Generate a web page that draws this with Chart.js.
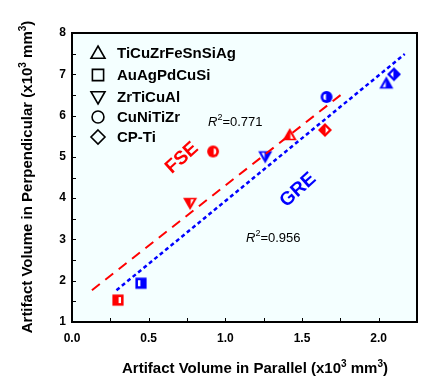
<!DOCTYPE html>
<html>
<head>
<meta charset="utf-8">
<script src="https://cdn.jsdelivr.net/npm/chart.js@4"></script>
<style>
html, body { margin: 0; padding: 0; background: #fff; }
</style>
</head>
<body>
<canvas id="scatterChart" width="430" height="383"></canvas>
<script>
// alloys in legend order, with their marker shapes
var alloys = ['TiCuZrFeSnSiAg', 'AuAgPdCuSi', 'ZrTiCuAl', 'CuNiTiZr', 'CP-Ti'];
var shapes = ['triangle', 'rect', 'triangleDown', 'circle', 'rectRot'];

// artifact volumes (x10^3 mm^3), same order as alloys
var fseParallel = [1.42, 0.30, 0.77, 0.92, 1.65];
var fsePerp     = [5.53, 1.53, 3.88, 5.13, 5.65];
var greParallel = [2.05, 0.45, 1.26, 1.66, 2.10];
var grePerp     = [6.78, 1.94, 5.01, 6.45, 7.00];

// fitted lines (end points)
var fseFitX = [0.13, 1.77];
var fseFitY = [1.77, 6.55];
var greFitX = [0.29, 2.17];
var greFitY = [1.77, 7.49];

var xTicks = [0, 0.5, 1.0, 1.5, 2.0];
var yTicks = [1, 2, 3, 4, 5, 6, 7, 8];

var RED = '#ff0000';
var BLUE = '#0000ff';

function shapePath(c, shape, cx, cy, r) {
    c.beginPath();
    if (shape === 'triangle') {
        c.moveTo(cx, cy - r);
        c.lineTo(cx + r, cy + r * 0.75);
        c.lineTo(cx - r, cy + r * 0.75);
        c.closePath();
    } else if (shape === 'triangleDown') {
        c.moveTo(cx, cy + r);
        c.lineTo(cx + r, cy - r * 0.75);
        c.lineTo(cx - r, cy - r * 0.75);
        c.closePath();
    } else if (shape === 'rect') {
        c.rect(cx - r * 0.8, cy - r * 0.8, r * 1.6, r * 1.6);
    } else if (shape === 'circle') {
        c.arc(cx, cy, r * 0.85, 0, Math.PI * 2);
    } else {
        c.moveTo(cx, cy - r);
        c.lineTo(cx + r, cy);
        c.lineTo(cx, cy + r);
        c.lineTo(cx - r, cy);
        c.closePath();
    }
}

// half filled marker: solid shape, white inner half on one side
function makeMarker(shape, color, side) {
    var cv = document.createElement('canvas');
    cv.width = 18; cv.height = 18;
    var c = cv.getContext('2d');
    shapePath(c, shape, 9, 9, 7);
    c.fillStyle = color;
    c.fill();
    c.save();
    c.beginPath();
    if (side === 'right') c.rect(9.6, 0, 9, 18);
    else c.rect(0, 0, 8.4, 18);
    c.clip();
    shapePath(c, shape, 9, shape === 'triangle' ? 10 : (shape === 'triangleDown' ? 8 : 9), 3.8);
    c.fillStyle = '#fff';
    c.fill();
    c.restore();
    return cv;
}

function makeOutline(shape) {
    var cv = document.createElement('canvas');
    cv.width = 20; cv.height = 20;
    var c = cv.getContext('2d');
    shapePath(c, shape, 10, 10, 7);
    c.strokeStyle = '#000';
    c.lineWidth = 1.6;
    c.stroke();
    return cv;
}

var fseMarkers = shapes.map(function (s) { return makeMarker(s, RED, 'right'); });
var greMarkers = shapes.map(function (s) { return makeMarker(s, BLUE, 'left'); });
var legendMarkers = shapes.map(makeOutline);

function pts(xs, ys) {
    return xs.map(function (x, i) { return { x: x, y: ys[i] }; });
}

// text with superscripts, parts = [[text, isSup, font], ...]
function drawParts(c, parts, x, y, font, supFont, align) {
    var w = 0;
    parts.forEach(function (p) {
        c.font = p[1] ? supFont : (p[2] || font);
        w += c.measureText(p[0]).width;
    });
    var cx = align === 'center' ? x - w / 2 : x;
    c.textAlign = 'left';
    c.textBaseline = 'alphabetic';
    parts.forEach(function (p) {
        c.font = p[1] ? supFont : (p[2] || font);
        c.fillText(p[0], cx, p[1] ? y - 6 : y);
        cx += c.measureText(p[0]).width;
    });
}

var decor = {
    id: 'decor',
    beforeDraw: function (chart) {
        var a = chart.chartArea, c = chart.ctx;
        c.save();
        c.fillStyle = '#f4ffff';
        c.fillRect(a.left, a.top, a.right - a.left, a.bottom - a.top);
        c.restore();
    },
    afterDraw: function (chart) {
        var a = chart.chartArea, c = chart.ctx;
        var xs = chart.scales.x, ys = chart.scales.y;
        c.save();
        // inner ticks
        c.strokeStyle = '#000';
        c.lineWidth = 1;
        c.beginPath();
        for (var v = 0; v < 2.25; v += 0.25) {
            var px = Math.round(xs.getPixelForValue(v)) + 0.5;
            c.moveTo(px, a.bottom);
            c.lineTo(px, a.bottom - 4);
        }
        for (var u = 1.5; u < 8; u += 0.5) {
            var py = Math.round(ys.getPixelForValue(u)) + 0.5;
            c.moveTo(a.left, py);
            c.lineTo(a.left + 4, py);
        }
        c.stroke();
        // frame
        c.lineWidth = 2;
        c.strokeRect(a.left, a.top, a.right - a.left, a.bottom - a.top);

        // legend
        c.fillStyle = '#000';
        c.font = 'bold 15px "Liberation Sans", Arial, sans-serif';
        c.textBaseline = 'middle';
        var rows = [53, 75, 97, 117, 137];
        alloys.forEach(function (name, i) {
            c.drawImage(legendMarkers[i], 88, rows[i] - 10);
            c.fillText(name, 117, rows[i] + 1);
        });

        // fit labels
        c.save();
        c.translate(182, 158);
        c.rotate(-42 * Math.PI / 180);
        c.fillStyle = RED;
        c.font = 'bold 19px "Liberation Sans", Arial, sans-serif';
        c.textAlign = 'center';
        c.fillText('FSE', 0, 0);
        c.restore();
        c.save();
        c.translate(298, 190);
        c.rotate(-42 * Math.PI / 180);
        c.fillStyle = BLUE;
        c.font = 'bold 19px "Liberation Sans", Arial, sans-serif';
        c.textAlign = 'center';
        c.fillText('GRE', 0, 0);
        c.restore();

        c.fillStyle = '#000';
        var reg = '13px "Liberation Sans", Arial, sans-serif';
        var ita = 'italic 13px "Liberation Sans", Arial, sans-serif';
        var sup = '9px "Liberation Sans", Arial, sans-serif';
        drawParts(c, [['R', false, ita], ['2', true], ['=0.771', false]], 208, 126, reg, sup, 'left');
        drawParts(c, [['R', false, ita], ['2', true], ['=0.956', false]], 246, 242, reg, sup, 'left');

        // axis titles
        var tf = 'bold 15px "Liberation Sans", Arial, sans-serif';
        var ts = 'bold 10px "Liberation Sans", Arial, sans-serif';
        drawParts(c, [['Artifact Volume in Parallel (x10', false], ['3', true], [' mm', false], ['3', true], [')', false]],
            255, 373, tf, ts, 'center');
        c.save();
        c.translate(32, 177);
        c.rotate(-Math.PI / 2);
        drawParts(c, [['Artifact Volume in Perpendicular (x10', false], ['3', true], [' mm', false], ['3', true], [')', false]],
            0, 0, tf, ts, 'center');
        c.restore();
        c.restore();
    }
};

var ctx = document.getElementById('scatterChart').getContext('2d');
var myChart = new Chart(ctx, {
    type: 'scatter',
    data: {
        datasets: [{
            type: 'line',
            label: 'FSE fit',
            data: pts(fseFitX, fseFitY),
            borderColor: RED,
            borderWidth: 2,
            borderDash: [10, 7],
            pointRadius: 0,
            fill: false
        }, {
            type: 'line',
            label: 'GRE fit',
            data: pts(greFitX, greFitY),
            borderColor: BLUE,
            borderWidth: 2.5,
            borderDash: [4, 3],
            pointRadius: 0,
            fill: false
        }, {
            label: 'FSE',
            data: pts(fseParallel, fsePerp),
            pointStyle: fseMarkers,
            pointRadius: 7
        }, {
            label: 'GRE',
            data: pts(greParallel, grePerp),
            pointStyle: greMarkers,
            pointRadius: 7
        }]
    },
    options: {
        responsive: false,
        animation: false,
        layout: { padding: { top: 33, right: 13, left: 0, bottom: 0 } },
        plugins: {
            legend: { display: false },
            tooltip: { enabled: false }
        },
        scales: {
            x: {
                type: 'linear',
                min: 0,
                max: 2.25,
                afterBuildTicks: function (s) { s.ticks = xTicks.map(function (v) { return { value: v }; }); },
                afterFit: function (s) { s.height = 61; },
                grid: { display: false, drawTicks: false },
                border: { display: false },
                ticks: {
                    padding: 9,
                    color: '#000',
                    font: { family: '"Liberation Sans", Arial, sans-serif', size: 12, weight: 'bold' },
                    callback: function (v) { return v.toFixed(1); }
                }
            },
            y: {
                type: 'linear',
                min: 1,
                max: 8,
                afterBuildTicks: function (s) { s.ticks = yTicks.map(function (v) { return { value: v }; }); },
                afterFit: function (s) { s.width = 72; },
                grid: { display: false, drawTicks: false },
                border: { display: false },
                ticks: {
                    padding: 6,
                    color: '#000',
                    font: { family: '"Liberation Sans", Arial, sans-serif', size: 12, weight: 'bold' }
                }
            }
        }
    },
    plugins: [decor]
});
</script>
</body>
</html>
